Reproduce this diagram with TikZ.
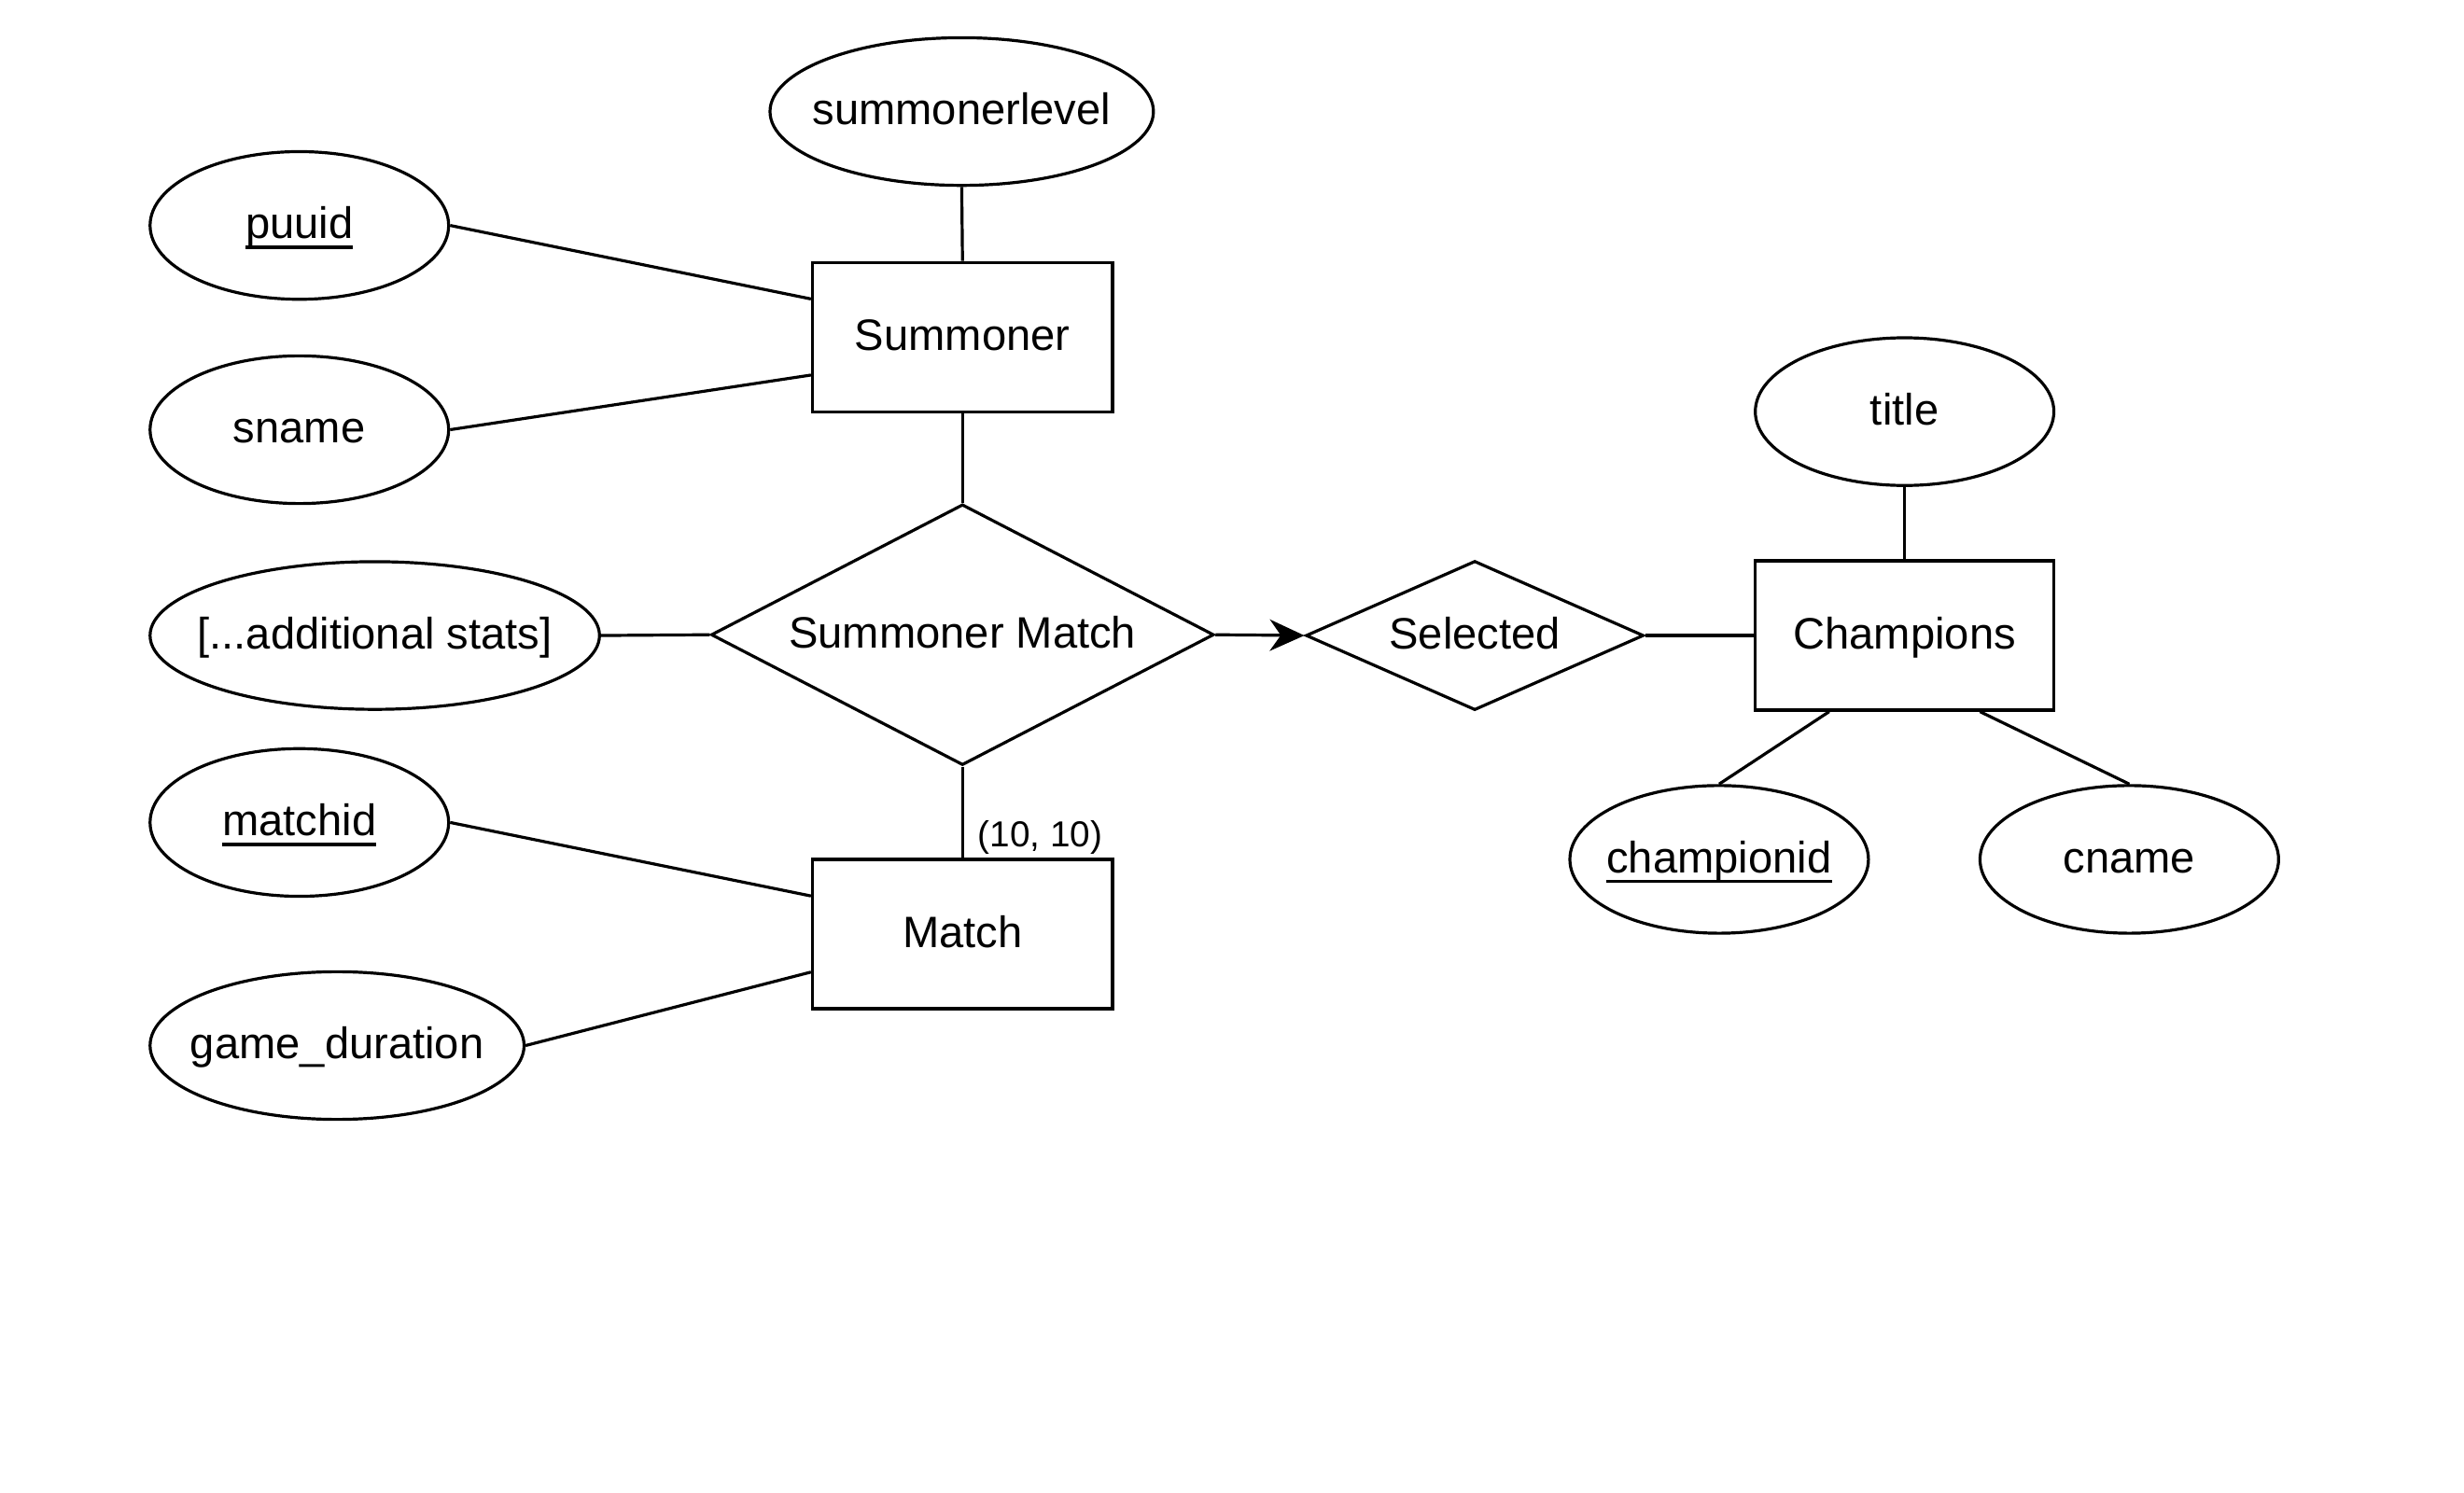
\documentclass[tikz,border=0pt]{standalone}
\usepackage{fontspec}
\setmainfont{Liberation Sans}
\usetikzlibrary{shapes.geometric,arrows.meta,calc}
\newcommand{\undl}[1]{\setbox0\hbox{#1}\rlap{\rule[-6.5pt]{\wd0}{2.2pt}}\box0}
\newcommand{\zw}[1]{\makebox[0pt]{#1}}
\begin{document}
\begin{tikzpicture}[x=1pt,y=-1pt,
  every node/.style={font=\fontsize{28}{34}\selectfont, text height=19.5pt, text depth=2.5pt},
  lw/.style={line width=1.9pt},
  attr/.style={ellipse, draw, lw, inner sep=0pt, minimum width=190pt, minimum height=94pt},
  ent/.style={rectangle, draw, lw, inner sep=0pt, minimum width=191pt, minimum height=95pt},
  rel/.style={diamond, draw, lw, inner sep=0pt},
  conn/.style={lw}]
\useasboundingbox (0,0) rectangle (1568,950.3);
\fill[white] (0,0) rectangle (1568,950.3);
% entities
\node[ent] (summ) at (612.5,214.5) {Summoner};
\node[ent] (match) at (612.5,594.5) {Match};
\node[ent, minimum width=190pt] (champ) at (1212,404.5) {Champions};
% relationships
\node[rel, aspect=1.93, minimum width=320pt, minimum height=166pt] (sm) at (612.5,404) {Summoner Match};
\node[rel, aspect=2.26, minimum width=215pt, minimum height=95pt] (sel) at (938.5,404.5) {Selected};
% attributes
\node[attr, minimum width=244pt] (slevel) at (612,71) {\zw{summonerlevel}};
\node[attr] (puuid) at (190.5,143.5) {\zw{\undl{puuid}}};
\node[attr] (sname) at (190.5,273.5) {\zw{sname}};
\node[attr, minimum width=286pt] (stats) at (238.5,404.5) {\zw{[...additional stats]}};
\node[attr] (mid) at (190.5,523.5) {\zw{\undl{matchid}}};
\node[attr, minimum width=238pt] (gd) at (214.5,665.5) {\zw{game\_duration}};
\node[attr] (title) at (1212,262) {\zw{title}};
\node[attr] (cid) at (1094,547) {\zw{\undl{championid}}};
\node[attr] (cname) at (1355,547) {\zw{cname}};
% label
\node[font=\fontsize{23}{28}\selectfont, text height=, text depth=, inner sep=0pt] (card) at ($(match.north)+(49.5,-13)$) {(10, 10)};
% connectors
\draw[conn] (puuid.east) -- ($(summ.north west)!0.25!(summ.south west)$);
\draw[conn] (sname.east) -- ($(summ.north west)!0.75!(summ.south west)$);
\draw[conn] (slevel.south) -- (summ.north);
\draw[conn] (summ.south) -- (sm.north);
\draw[conn] (stats.east) -- (sm.west);
\draw[conn, -{Stealth[length=22pt, width=20pt, inset=7pt]}] (sm.east) -- (sel.west);
\draw[conn] (sel.east) -- (champ.west);
\draw[conn] (title.south) -- (champ.north);
\draw[conn] ($(champ.south west)!0.25!(champ.south east)$) -- (cid.north);
\draw[conn] ($(champ.south west)!0.75!(champ.south east)$) -- (cname.north);
\draw[conn] (sm.south) -- (match.north);
\draw[conn] (mid.east) -- ($(match.north west)!0.25!(match.south west)$);
\draw[conn] (gd.east) -- ($(match.north west)!0.75!(match.south west)$);
\end{tikzpicture}
\end{document}
